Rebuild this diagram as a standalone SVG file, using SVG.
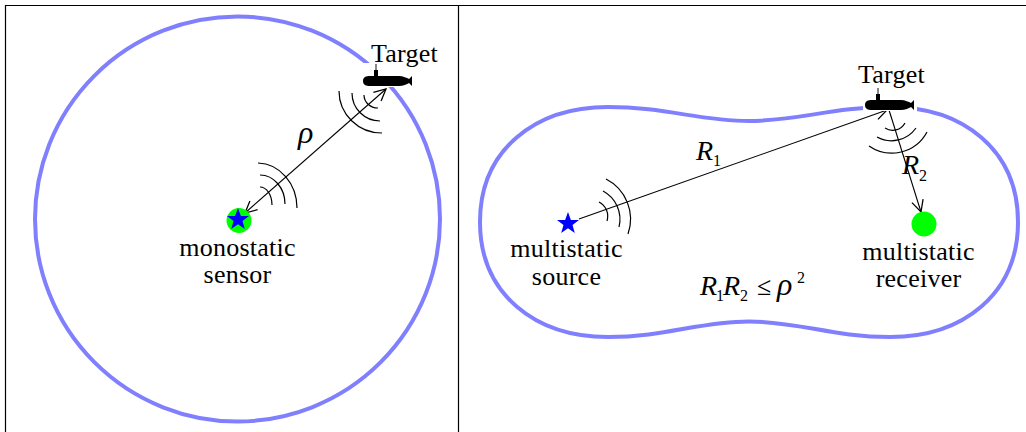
<svg xmlns="http://www.w3.org/2000/svg" width="1026" height="432" viewBox="0 0 1026 432">
<style>
text{font-family:"Liberation Serif","Times New Roman",serif;fill:#000;font-size:26px;letter-spacing:.25px}
.i{font-style:italic;letter-spacing:0;font-size:28px}
.rho{font-style:italic;letter-spacing:0;font-size:32px}
.sub{font-size:16px;letter-spacing:0}
.frame{stroke:#000;stroke-width:1.2;fill:none}
.range{stroke:#8080ff;stroke-width:4;fill:none;stroke-linejoin:round}
.wave{stroke:#000;stroke-width:1.2;fill:none}
.ray{stroke:#000;stroke-width:1.1;fill:none}
</style>
<defs>
<marker id="open" viewBox="0 0 12 12" refX="11" refY="6" markerWidth="14" markerHeight="14" markerUnits="userSpaceOnUse" orient="auto-start-reverse"><path d="M1 1L11 6L1 11" fill="none" stroke="#000" stroke-width="1.1"/></marker>
<g id="submarine"><rect x="-2" y="-13" width="54" height="24" fill="#fff"/><path d="M0 5C0 1 3 0 7 0H11V-6H15V0H36C40 0 44 2 46 3L49 0V10L46 7C44 8 40 10 36 10H7C3 10 0 9 0 5Z" fill="#000"/><rect x="12.300" y="-12" width="1.400" height="6" fill="#555"/></g>
<path id="star" d="M0 -11.500L2.900 -3.600L11 -3.600L4.500 1.400L6.800 9.500L0 4.800L-6.800 9.500L-4.500 1.400L-11 -3.600L-2.900 -3.600Z" fill="#0000ff"/>
</defs>
<rect width="1026" height="432" fill="#fff"/>
<g id="frame"><path class="frame" d="M5.500 432V5.500H1026M458.500 5.500V432"/></g>
<g id="left-range"><circle class="range" cx="237.500" cy="219" r="202.500"/></g>
<g id="right-range"><path class="range" d="M480 222C480 150 535 107 608 107C665 107 700 121 749 121C798 121 833 107 890 107C963 107 1018 150 1018 222C1018 294 963 337 890 337C833 337 798 321.500 749 321.500C700 321.500 665 337 608 337C535 337 480 294 480 222Z"/></g>
<g id="connectors">
<path class="ray" d="M386 89L245 213" marker-start="url(#open)" marker-end="url(#open)"/>
<path class="ray" d="M579 219L887 110" marker-end="url(#open)"/>
<path class="ray" d="M889 110L921 212" marker-end="url(#open)"/>
<path class="wave" d="M258 163A40 45 0 0 1 297 208M260 175A25 29 0 0 1 285 204M260 187A12 18 0 0 1 272 205"/>
<path class="wave" d="M339 91A43 42 0 0 0 382 133M352 93A28 28 0 0 0 380 121M364 95A14 13 0 0 0 378 108"/>
<path class="wave" d="M869 146A40 40 0 0 0 927 132M877 137A30 30 0 0 0 916 128M885 128A14 14 0 0 0 905 123"/>
<path class="wave" d="M606 179A45 45 0 0 1 628 234M603 191A32 32 0 0 1 619 227M599 202A16 16 0 0 1 607 221"/>
</g>
<g id="target-left"><use href="#submarine" x="363" y="76"/><text x="371" y="62">Target</text></g>
<g id="target-right"><use href="#submarine" x="865" y="100"/><text x="858" y="83">Target</text></g>
<g id="monostatic-sensor"><circle cx="239" cy="220.500" r="12.500" fill="#00ff00"/><use href="#star" x="238" y="219.500"/><text x="237.500" y="256" text-anchor="middle">monostatic</text><text x="237.500" y="283" text-anchor="middle">sensor</text></g>
<g id="multistatic-source"><use href="#star" x="568" y="223.500"/><text x="566.500" y="257" text-anchor="middle">multistatic</text><text x="566.500" y="285" text-anchor="middle">source</text></g>
<g id="multistatic-receiver"><circle cx="924" cy="224" r="12.500" fill="#00ff00"/><text x="918.500" y="260" text-anchor="middle">multistatic</text><text x="918.500" y="287" text-anchor="middle">receiver</text></g>
<g id="labels">
<text class="rho" x="298" y="143">ρ</text>
<text class="i" x="696" y="160">R</text><text class="sub" x="713" y="166">1</text>
<text class="i" x="902" y="174">R</text><text class="sub" x="919" y="181">2</text>
<text class="i" x="700" y="295">R</text><text class="sub" x="716" y="301">1</text>
<text class="i" x="723" y="295">R</text><text class="sub" x="740" y="301">2</text>
<text x="757" y="295">≤</text>
<text class="rho" x="777" y="295">ρ</text><text class="sub" x="797" y="283">2</text>
</g>
</svg>
